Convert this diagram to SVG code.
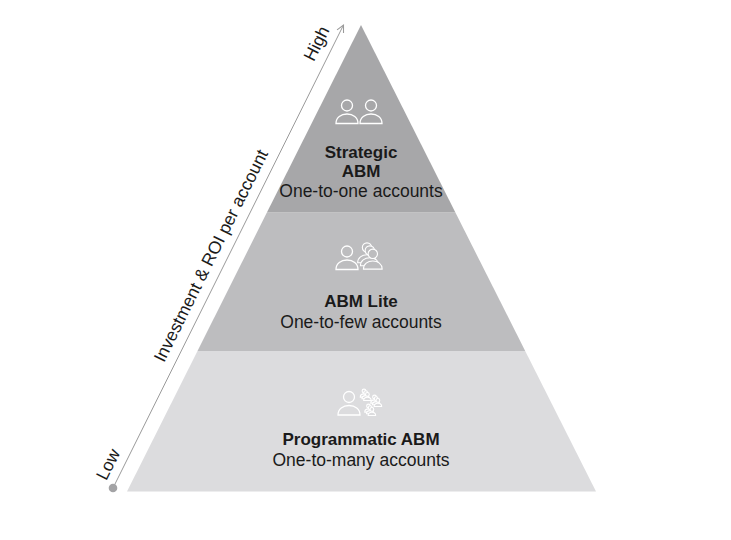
<svg xmlns="http://www.w3.org/2000/svg" width="731" height="540" viewBox="0 0 731 540">
<style>
.t{font-family:"Liberation Sans",Arial,sans-serif;font-size:17.5px;fill:#1a1a1a;text-anchor:middle}
.b{font-weight:bold;font-size:17px}
.ax{font-family:"Liberation Sans",Arial,sans-serif;font-size:17.5px;fill:#1a1a1a;text-anchor:middle}
.ic{fill:none;stroke:#ffffff;stroke-width:1.3}
.mini{fill:#dcdcde;stroke-width:3.2}
</style>
<defs>
<g id="person">
<circle cx="0" cy="0" r="5.5"/>
<path d="M-11,18 C-11,12 -6,8.5 0,8.5 C6,8.5 11,12 11,18 Z"/>
</g>
<g id="trio">
<use href="#person" x="0" y="0"/><use href="#person" x="5" y="5"/><use href="#person" x="10" y="10"/>
</g>
<marker id="arr" viewBox="0 0 10 10" refX="9" refY="5" markerWidth="9" markerHeight="9" orient="auto" markerUnits="userSpaceOnUse">
<path d="M1,1 L9,5 L1,9" fill="none" stroke="#9a9a9a" stroke-width="1.2"/>
</marker>
</defs>
<rect width="731" height="540" fill="#ffffff"/>

<g id="tier-programmatic">
<polygon points="197.5,351 525.2,351 596,491.5 127,491.5" fill="#dcdcde"/>
<g class="ic">
<use href="#person" x="349" y="397"/>
<g class="mini" transform="translate(364,391) scale(0.34)"><use href="#trio"/></g>
<g class="mini" transform="translate(374.5,397) scale(0.34)"><use href="#trio"/></g>
<g class="mini" transform="translate(368.5,406) scale(0.34)"><use href="#trio"/></g>
</g>
<text class="t b" x="361" y="445">Programmatic ABM</text>
<text class="t" x="361" y="466">One-to-many accounts</text>
</g>

<g id="tier-lite">
<polygon points="266.9,212.5 455.4,212.5 525.2,351 197.5,351" fill="#bdbdbf"/>
<g class="ic">
<use href="#person" x="347" y="251.5"/>
<g style="fill:#bdbdbf">
<use href="#person" transform="translate(367,247.5) scale(0.85)"/>
<use href="#person" transform="translate(369.8,250.5) scale(0.85)"/>
<use href="#person" transform="translate(372.8,253.8) scale(0.85)"/>
</g>
</g>
<text class="t b" x="361" y="307">ABM Lite</text>
<text class="t" x="361" y="328">One-to-few accounts</text>
</g>

<g id="tier-strategic">
<polygon points="361,25 455.4,212.5 266.9,212.5" fill="#a7a7a9"/>
<g class="ic">
<use href="#person" x="347" y="105.5"/>
<use href="#person" x="371" y="105.5"/>
</g>
<text class="t b" x="361" y="158">Strategic</text>
<text class="t b" x="361" y="177">ABM</text>
<text class="t" x="361" y="197">One-to-one accounts</text>
</g>

<g id="connectors">
<line x1="113" y1="488" x2="343.5" y2="25" stroke="#9a9a9a" stroke-width="1" marker-end="url(#arr)"/>
<circle cx="113" cy="488" r="4.3" fill="#a3a3a5"/>
</g>

<g id="axis-labels" transform="translate(113,488) rotate(-63.53)">
<text class="ax" x="19" y="-9">Low</text>
<text class="ax" x="251.5" y="-10">Investment &amp; ROI per account</text>
<text class="ax" x="488.5" y="-10">High</text>
</g>
</svg>
